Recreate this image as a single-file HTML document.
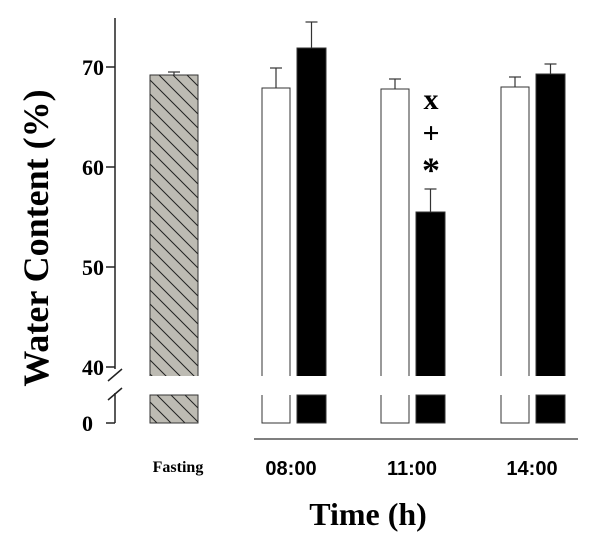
<!DOCTYPE html>
<html><head><meta charset="utf-8"><style>
body{margin:0;background:#fff;}
svg{display:block;}
</style></head><body>
<svg width="600" height="538" viewBox="0 0 600 538" xmlns="http://www.w3.org/2000/svg">
<defs>
<pattern id="hatch" patternUnits="userSpaceOnUse" width="14" height="14">
<rect width="14" height="14" fill="#bdbbb3"/>
<path d="M0,0 L14,14 M-7,7 L7,21 M7,-7 L21,7" stroke="#222" stroke-width="1"/>
</pattern>
</defs>
<g id="chart"></g>
</svg>
<script>
const categories = ["Fasting","08:00","11:00","14:00"];
const fastingValue = [69.2];
const fastingErr = [0.3];
const whiteValues = [67.9, 67.8, 68.0];
const whiteErr = [2.0, 1.0, 1.0];
const blackValues = [71.9, 55.5, 69.3];
const blackErr = [2.6, 2.3, 1.0];
const yTicks = [40, 50, 60, 70];

const NS = "http://www.w3.org/2000/svg";
const g = document.getElementById('chart');
function y(v){ return 67 + (70 - v) * 10; }
const yBreakTop = 376, yLowTop = 395, yZero = 423;
function mk(tag, attrs, parent){
  const e = document.createElementNS(NS, tag);
  for (const k in attrs) e.setAttribute(k, attrs[k]);
  (parent||g).appendChild(e); return e;
}
let a = mk('line',{x1:115,y1:18,x2:115,y2:369,stroke:'#222','stroke-width':1.5});
 
a = mk('line',{x1:115,y1:393,x2:115,y2:yZero,stroke:'#222','stroke-width':1.5});
 
let b = mk('path',{d:'M108,381 L122,369 M108,400 L122,388',stroke:'#222','stroke-width':1.5,fill:'none'});
 
yTicks.forEach(t=>{
  const l = mk('line',{x1:106,y1:y(t),x2:115,y2:y(t),stroke:'#222','stroke-width':1.5});
   
  const tx = mk('text',{x:104,y:y(t)+8,'text-anchor':'end','font-family':'Liberation Serif, serif','font-weight':'bold','font-size':22});
  tx.textContent = t;
   
});
let l0 = mk('line',{x1:106,y1:yZero,x2:115,y2:yZero,stroke:'#222','stroke-width':1.5});
 
let t0 = mk('text',{x:93,y:yZero+8,'text-anchor':'end','font-family':'Liberation Serif, serif','font-weight':'bold','font-size':22});
t0.textContent='0';  

function bar(x, w, v, err, fill, name){
  const grp = mk('g',{});
   
  const ex = x + w/2;
  mk('line',{x1:ex,y1:y(v),x2:ex,y2:y(v+err),stroke:'#333','stroke-width':1.2},grp);
  mk('line',{x1:ex-6,y1:y(v+err),x2:ex+6,y2:y(v+err),stroke:'#333','stroke-width':1.2},grp);
  mk('path',{d:`M${x},${yBreakTop} L${x},${y(v)} L${x+w},${y(v)} L${x+w},${yBreakTop}`,fill:fill,stroke:'#333','stroke-width':1},grp);
  if (fill!=='#fff') mk('rect',{x:x,y:yLowTop,width:w,height:yZero-yLowTop,fill:fill,stroke:'#333','stroke-width':1},grp);
  else mk('path',{d:`M${x},${yLowTop} L${x},${yZero} L${x+w},${yZero} L${x+w},${yLowTop}`,fill:'#fff',stroke:'#333','stroke-width':1},grp);
}
bar(150, 48, fastingValue[0], fastingErr[0], 'url(#hatch)', 'bar-fasting');
const groupX = [262, 381, 501];
whiteValues.forEach((v,i)=>{
  bar(groupX[i], 28, v, whiteErr[i], '#fff', 'bar-white-'+categories[i+1].replace(':',''));
  bar(groupX[i]+35, 29, blackValues[i], blackErr[i], '#000', 'bar-black-'+categories[i+1].replace(':',''));
});
let bl = mk('line',{x1:254,y1:439,x2:578,y2:439,stroke:'#333','stroke-width':1.2});
 
[['x',109,'sig-x'],['+',143,'sig-plus'],['*',182,'sig-star']].forEach(([s,yy,n])=>{
  const t = mk('text',{x:431,y:yy,'text-anchor':'middle','font-family':'Liberation Serif, serif','font-weight':'bold','font-size':s==='*'?36:30});
  t.textContent = s;  
});
const labX = [178, 291, 412, 532];
categories.forEach((c,i)=>{
  const t = mk('text',{x:labX[i],y:i===0?472:475,'text-anchor':'middle','font-family':i===0?'Liberation Serif, serif':'Liberation Sans, sans-serif','font-weight':'bold','font-size':i===0?16:20});
  t.textContent = c;  
});
let xt = mk('text',{x:368,y:525,'text-anchor':'middle','font-family':'Liberation Serif, serif','font-weight':'bold','font-size':32});
xt.textContent='Time (h)';  
let yt = mk('text',{x:0,y:0,'text-anchor':'middle','font-family':'Liberation Serif, serif','font-weight':'bold','font-size':36,transform:'translate(48,238) rotate(-90)'});
yt.textContent='Water Content (%)';  
</script>
</body></html>
